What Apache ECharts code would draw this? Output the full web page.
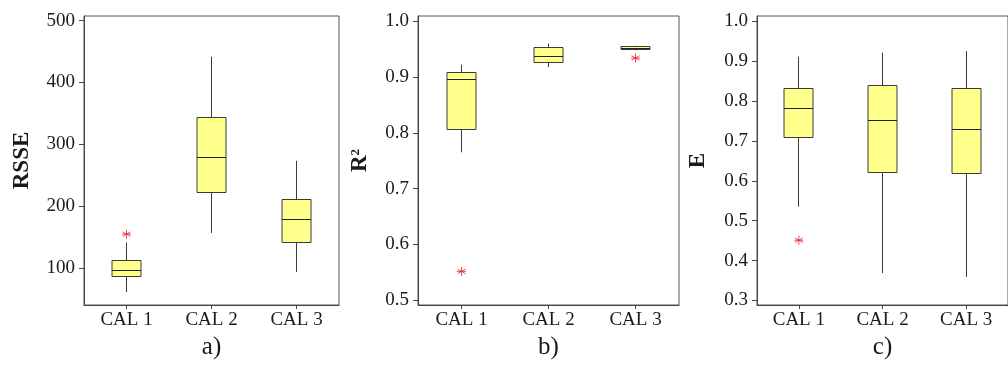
<!DOCTYPE html>
<html>
<head>
<meta charset="utf-8">
<script src="https://cdn.jsdelivr.net/npm/echarts@6/dist/echarts.min.js"></script>
<style>
  html, body { margin: 0; padding: 0; background: #fff; }
  #main { width: 1008px; height: 365px; }
</style>
</head>
<body>
<div id="main"></div>
<script>
// categories and box stats [min, Q1, median, Q3, max]
var categories = ['CAL 1', 'CAL 2', 'CAL 3'];

var rsseBox = [[61.5, 86, 97, 112, 141.5], [157, 223, 279, 343, 441.6], [94, 141.5, 179, 211, 273.5]];
var rsseOutliers = [['CAL 1', 155]];
var rsseTicks = [100, 200, 300, 400, 500];

var r2Box = [[0.765, 0.806, 0.895, 0.9075, 0.922], [0.918, 0.926, 0.9365, 0.953, 0.960], [0.948, 0.9494, 0.951, 0.954, 0.956]];
var r2Outliers = [['CAL 1', 0.5515], ['CAL 3', 0.934]];
var r2Ticks = [0.5, 0.6, 0.7, 0.8, 0.9, 1.0];

var eBox = [[0.5355, 0.708, 0.781, 0.831, 0.911], [0.369, 0.622, 0.751, 0.840, 0.921], [0.359, 0.619, 0.728, 0.831, 0.925]];
var eOutliers = [['CAL 1', 0.451]];
var eTicks = [0.3, 0.4, 0.5, 0.6, 0.7, 0.8, 0.9, 1.0];

var serif = 'Liberation Serif';
var textColor = '#1a1a1a';
var asterisk = 'path://M0,-5L0,5M-4.33,-2.5L4.33,2.5M-4.33,2.5L4.33,-2.5M-5,0L5,0';

function xAxisFor(idx, label) {
    return {
        type: 'category',
        gridIndex: idx,
        data: categories,
        boundaryGap: true,
        axisLine: {show: true, lineStyle: {color: '#444', width: 1}},
        axisTick: {show: true, alignWithLabel: true, length: 4, lineStyle: {color: '#444'}},
        axisLabel: {fontFamily: serif, fontSize: 19, color: textColor, margin: 6},
        splitLine: {show: false},
        name: label,
        nameLocation: 'middle',
        nameGap: 30,
        nameTextStyle: {fontFamily: serif, fontSize: 25, color: textColor}
    };
}

function yAxisFor(idx, min, max, ticks, name, nameGap, digits) {
    return {
        type: 'value',
        gridIndex: idx,
        min: min,
        max: max,
        axisLine: {show: true, lineStyle: {color: '#444', width: 1}},
        axisTick: {show: true, length: 5, customValues: ticks, lineStyle: {color: '#444'}},
        axisLabel: {
            fontFamily: serif, fontSize: 19, color: textColor, margin: 9,
            customValues: ticks,
            formatter: function (v) { return Number(v).toFixed(digits); }
        },
        splitLine: {show: false},
        name: name,
        nameLocation: 'middle',
        nameGap: nameGap,
        nameTextStyle: {
            fontFamily: serif, fontSize: 23, fontWeight: 'bold', color: textColor,
            rich: {
                b: {fontFamily: serif, fontSize: 23, fontWeight: 'bold', color: textColor},
                s: {fontFamily: serif, fontSize: 13, fontWeight: 'bold', color: textColor, padding: [0, 0, 10, 0]}
            }
        }
    };
}

function crisp(v) {
    return Math.round(v - 0.5) + 0.5;
}

function boxSeries(idx, stats) {
    var data = stats.map(function (d, i) { return [i].concat(d); });
    return {
        type: 'custom',
        xAxisIndex: idx,
        yAxisIndex: idx,
        data: data,
        encode: {x: 0, y: [1, 2, 3, 4, 5]},
        renderItem: function (params, api) {
            var c = api.value(0);
            var pMin = api.coord([c, api.value(1)]);
            var pQ1 = api.coord([c, api.value(2)]);
            var pMed = api.coord([c, api.value(3)]);
            var pQ3 = api.coord([c, api.value(4)]);
            var pMax = api.coord([c, api.value(5)]);
            var x = crisp(pMed[0]);
            var half = 14.5;
            var lineStyle = {stroke: '#3a3a3a', lineWidth: 1};
            return {
                type: 'group',
                children: [
                    {type: 'line', shape: {x1: x, y1: pMin[1], x2: x, y2: pQ1[1]}, style: lineStyle},
                    {type: 'line', shape: {x1: x, y1: pQ3[1], x2: x, y2: pMax[1]}, style: lineStyle},
                    {type: 'rect',
                        shape: {x: x - half, y: crisp(pQ3[1]), width: half * 2, height: crisp(pQ1[1]) - crisp(pQ3[1])},
                        style: {fill: '#ffff8c', stroke: '#3a3a3a', lineWidth: 1}},
                    {type: 'line', shape: {x1: x - half, y1: crisp(pMed[1]), x2: x + half, y2: crisp(pMed[1])},
                        style: {stroke: '#222', lineWidth: 1}}
                ]
            };
        }
    };
}

function outlierSeries(idx, data) {
    return {
        type: 'scatter',
        xAxisIndex: idx,
        yAxisIndex: idx,
        data: data,
        symbol: asterisk,
        symbolSize: 9,
        itemStyle: {color: 'none', borderColor: '#e8202a', borderWidth: 1},
        z: 5
    };
}

var chart = echarts.init(document.getElementById('main'));
chart.setOption({
    animation: false,
    backgroundColor: '#fff',
    textStyle: {fontFamily: serif},
    grid: [
        {left: 84, top: 16, width: 255, height: 296, show: true, borderColor: '#555', borderWidth: 1},
        {left: 418, top: 16, width: 261, height: 297, show: true, borderColor: '#555', borderWidth: 1},
        {left: 757, top: 16, width: 260, height: 296, show: true, borderColor: '#555', borderWidth: 1}
    ],
    xAxis: [xAxisFor(0, 'a)'), xAxisFor(1, 'b)'), xAxisFor(2, 'c)')],
    yAxis: [
        yAxisFor(0, 40.5, 507.4, rsseTicks, 'RSSE', 50, 0),
        yAxisFor(1, 0.4913, 1.0093, r2Ticks, '{b|R}{s|2}', 46, 1),
        yAxisFor(2, 0.2887, 1.013, eTicks, 'E', 47, 1)
    ],
    series: [
        boxSeries(0, rsseBox), outlierSeries(0, rsseOutliers),
        boxSeries(1, r2Box), outlierSeries(1, r2Outliers),
        boxSeries(2, eBox), outlierSeries(2, eOutliers)
    ]
});
</script>
</body>
</html>
